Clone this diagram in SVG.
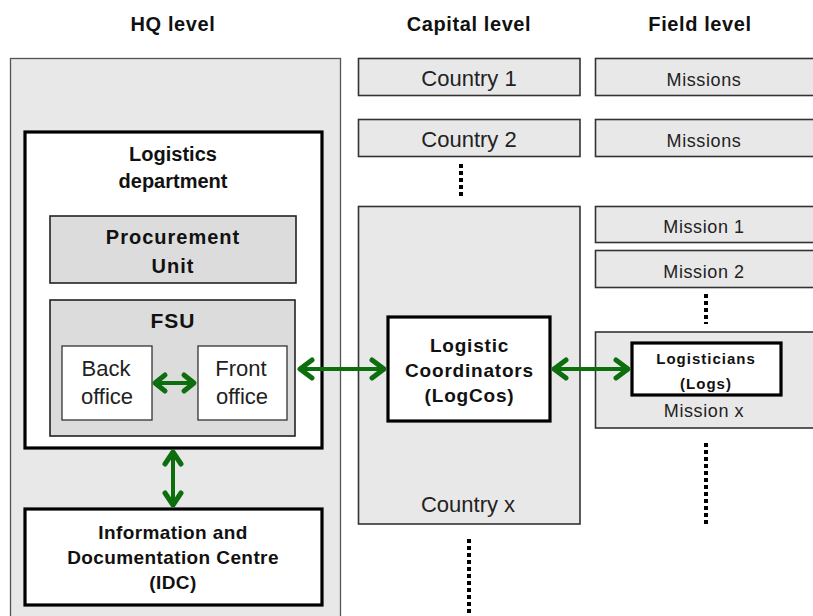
<svg xmlns="http://www.w3.org/2000/svg" width="813" height="616" viewBox="0 0 813 616">
  <style>
    .hdr { font-family: "Liberation Sans", Arial, sans-serif; font-weight: bold; font-size: 20px; letter-spacing: 0.6px; fill: #111; text-anchor: middle; }
    .reg { font-family: "Liberation Sans", Arial, sans-serif; font-size: 22px; fill: #222; text-anchor: middle; }
    .sm { font-family: "Liberation Sans", Arial, sans-serif; font-size: 18px; letter-spacing: 0.6px; fill: #222; text-anchor: middle; }
    .b { font-family: "Liberation Sans", Arial, sans-serif; font-weight: bold; font-size: 20px; fill: #111; text-anchor: middle; }
    .bs { font-family: "Liberation Sans", Arial, sans-serif; font-weight: bold; font-size: 15px; letter-spacing: 1px; fill: #111; text-anchor: middle; }
    .zone { fill: #e8e8e8; stroke: #555; stroke-width: 1.3; }
    .cell { fill: #e8e8e8; stroke: #333; stroke-width: 1.6; }
    .unit { fill: #dcdcdc; stroke: #222; stroke-width: 1.6; }
    .thick { fill: #fff; stroke: #000; stroke-width: 3.2; }
    .thin { fill: #fff; stroke: #333; stroke-width: 1.3; }
    .dots { stroke: #000; stroke-width: 4; stroke-dasharray: 4 3; fill: none; }
    .link { stroke: #0d6e0d; stroke-width: 4; fill: none; }
    .head { stroke: #0d6e0d; stroke-width: 5; fill: none; stroke-linecap: round; stroke-linejoin: round; }
  </style>

  <!-- column headings -->
  <g id="headings">
    <text class="hdr" x="173" y="31">HQ level</text>
    <text class="hdr" x="469" y="31">Capital level</text>
    <text class="hdr" x="700" y="31">Field level</text>
  </g>

  <!-- HQ column -->
  <g id="hq">
    <rect class="zone" x="10.5" y="58.5" width="330" height="570"/>
  </g>
  <g id="logistics-department">
    <rect class="thick" x="25" y="132" width="297" height="316"/>
    <text class="b" x="173" y="161">Logistics</text>
    <text class="b" x="173" y="188">department</text>
  </g>
  <g id="procurement-unit">
    <rect class="unit" x="50" y="216" width="246" height="67"/>
    <text class="b" x="173" y="244" style="letter-spacing:1px">Procurement</text>
    <text class="b" x="173" y="273" style="letter-spacing:1px">Unit</text>
  </g>
  <g id="fsu">
    <rect class="unit" x="50" y="300" width="245" height="136"/>
    <text class="b" x="173" y="328" style="font-size:21px;letter-spacing:1px">FSU</text>
  </g>
  <g id="back-office">
    <rect class="thin" x="62" y="346" width="90" height="74"/>
    <text class="reg" x="106" y="376">Back</text>
    <text class="reg" x="107" y="404">office</text>
  </g>
  <g id="front-office">
    <rect class="thin" x="198" y="346" width="89" height="74"/>
    <text class="reg" x="241" y="376">Front</text>
    <text class="reg" x="242" y="404">office</text>
  </g>
  <g id="idc">
    <rect class="thick" x="25" y="509" width="297" height="96"/>
    <text class="b" x="173" y="539" style="font-size:19px;letter-spacing:0.4px">Information and</text>
    <text class="b" x="173" y="564" style="font-size:19px;letter-spacing:0.4px">Documentation Centre</text>
    <text class="b" x="173" y="589" style="font-size:19px;letter-spacing:0.4px">(IDC)</text>
  </g>

  <!-- capital column -->
  <g id="country-1">
    <rect class="cell" x="358.5" y="58.5" width="221.5" height="37"/>
    <text class="reg" x="469" y="86">Country 1</text>
  </g>
  <g id="country-2">
    <rect class="cell" x="358.5" y="119.5" width="221.5" height="37"/>
    <text class="reg" x="469" y="147">Country 2</text>
  </g>
  <g id="country-x">
    <rect class="cell" x="358.5" y="206.5" width="221.5" height="317.5"/>
    <text class="reg" x="468" y="512">Country x</text>
  </g>
  <g id="logcos">
    <rect class="thick" x="388" y="317" width="162" height="104"/>
    <text class="b" x="469.5" y="352" style="font-size:19px;letter-spacing:0.8px">Logistic</text>
    <text class="b" x="469.5" y="377" style="font-size:19px;letter-spacing:0.8px">Coordinators</text>
    <text class="b" x="469.5" y="402" style="font-size:19px;letter-spacing:0.8px">(LogCos)</text>
  </g>

  <!-- field column -->
  <g id="missions-1">
    <rect class="cell" x="595.5" y="58.5" width="230" height="37"/>
    <text class="sm" x="704" y="86">Missions</text>
  </g>
  <g id="missions-2">
    <rect class="cell" x="595.5" y="119.5" width="230" height="37"/>
    <text class="sm" x="704" y="147">Missions</text>
  </g>
  <g id="mission-1">
    <rect class="cell" x="595.5" y="206.5" width="230" height="36"/>
    <text class="sm" x="704" y="233">Mission 1</text>
  </g>
  <g id="mission-2">
    <rect class="cell" x="595.5" y="250.5" width="230" height="37"/>
    <text class="sm" x="704" y="278">Mission 2</text>
  </g>
  <g id="mission-x">
    <rect class="cell" x="595.5" y="332" width="230" height="96"/>
    <text class="sm" x="704" y="417">Mission x</text>
  </g>
  <g id="logisticians">
    <rect class="thick" x="632" y="343" width="149" height="52"/>
    <text class="bs" x="706" y="364">Logisticians</text>
    <text class="bs" x="706" y="389">(Logs)</text>
  </g>

  <!-- continuation marks -->
  <g id="continuations">
    <line class="dots" x1="461" y1="164" x2="461" y2="199"/>
    <line class="dots" x1="706" y1="294" x2="706" y2="324"/>
    <line class="dots" x1="706" y1="443" x2="706" y2="524"/>
    <line class="dots" x1="469" y1="539" x2="469" y2="616"/>
  </g>

  <!-- two-way links -->
  <g id="connectors">
    <line class="link" x1="155" y1="383" x2="194" y2="383"/>
    <polyline class="head" points="165,375 155,383 165,391"/>
    <polyline class="head" points="184,375 194,383 184,391"/>

    <line class="link" x1="300" y1="369" x2="384" y2="369"/>
    <polyline class="head" points="312,360 300,369 312,378"/>
    <polyline class="head" points="372,360 384,369 372,378"/>

    <line class="link" x1="554" y1="369" x2="628" y2="369"/>
    <polyline class="head" points="566,360 554,369 566,378"/>
    <polyline class="head" points="616,360 628,369 616,378"/>

    <line class="link" x1="173" y1="452" x2="173" y2="505"/>
    <polyline class="head" points="165,464 173,452 181,464"/>
    <polyline class="head" points="165,493 173,505 181,493"/>
  </g>
</svg>
